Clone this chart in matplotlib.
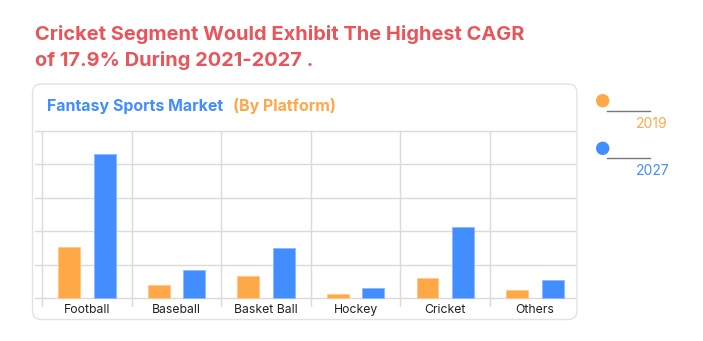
import matplotlib.pyplot as plt
import numpy as np
from matplotlib.patches import FancyBboxPatch, Circle
from matplotlib.lines import Line2D

plt.rcParams['font.family'] = ['Inter', 'DejaVu Sans']

platforms = ["Football", "Baseball", "Basket Ball", "Hockey", "Cricket", "Others"]
years = ["2019", "2027"]
values_2019 = [1.54, 0.40, 0.67, 0.13, 0.60, 0.25]
values_2027 = [4.30, 0.84, 1.49, 0.31, 2.14, 0.55]

orange = "#FFA847"
blue = "#428DFF"
red = "#E8555A"
grid_col = "#DADADA"

W, H = 703, 341
fig = plt.figure(figsize=(W / 100, H / 100), dpi=100)
fig.patch.set_facecolor("white")


def fx(px):
    return px / W


def fy(py):
    return 1 - py / H


# card behind the chart
card = FancyBboxPatch((0.325, 0.215), 5.445, 2.355,
                      boxstyle="round,pad=0,rounding_size=0.09",
                      transform=fig.dpi_scale_trans,
                      facecolor="white", edgecolor="#E2E2E2", linewidth=1.0,
                      zorder=0)
fig.add_artist(card)

ax = fig.add_axes([fx(35), fy(307.3), fx(576) - fx(35), (307.3 - 130) / H])
ax.set_facecolor("none")
ax.set_zorder(1)

x = np.arange(len(platforms))
bw = 0.245
off = 0.198
ax.bar(x - off, values_2019, bw, color=orange, edgecolor="#FFC88A",
       linewidth=0.6, zorder=3)
ax.bar(x + off, values_2027, bw, color=blue, edgecolor="#8DB8FF",
       linewidth=0.6, zorder=3)

ax.set_xlim(-0.58, 5.46)
ax.set_ylim(-0.27, 5.03)

for yv in range(6):
    ax.axhline(yv, color=grid_col, linewidth=1.0, zorder=1)
ax.vlines(x - 0.5, -0.27, 5.0, color=grid_col, linewidth=1.0, zorder=1)

for xi, name in zip(x, platforms):
    ax.text(xi, -0.35, name, ha="center", va="center", fontsize=8.8,
            color="#222222", clip_on=False)

ax.set_xticks([])
ax.set_yticks([])
for s in ax.spines.values():
    s.set_visible(False)

# headline
fig.text(fx(35), fy(40), "Cricket Segment Would Exhibit The Highest CAGR",
         color=red, fontsize=14.4, fontweight="bold", va="baseline")
fig.text(fx(35), fy(66.5), "of 17.9% During 2021-2027 .",
         color=red, fontsize=14.4, fontweight="bold", va="baseline")

# card title
fig.text(fx(47), fy(111), "Fantasy Sports Market", color=blue,
         fontsize=11.5, fontweight="bold", va="baseline")
fig.text(fx(233), fy(111), "(By Platform)", color=orange,
         fontsize=11.5, fontweight="bold", va="baseline")

# legend on the right
for yr, col, cy in zip(years, [orange, blue], [100.7, 148.3]):
    fig.add_artist(Circle((6.027, (H - cy) / 100), 0.067,
                          transform=fig.dpi_scale_trans,
                          facecolor=col, edgecolor="none"))
    fig.add_artist(Line2D([fx(607), fx(650)], [fy(cy + 10), fy(cy + 10)],
                          color="#777777", linewidth=1.0))
    fig.text(fx(636), fy(cy + 23), yr, color=col, fontsize=10,
             va="center")

fig.savefig("out.png", dpi=100)
